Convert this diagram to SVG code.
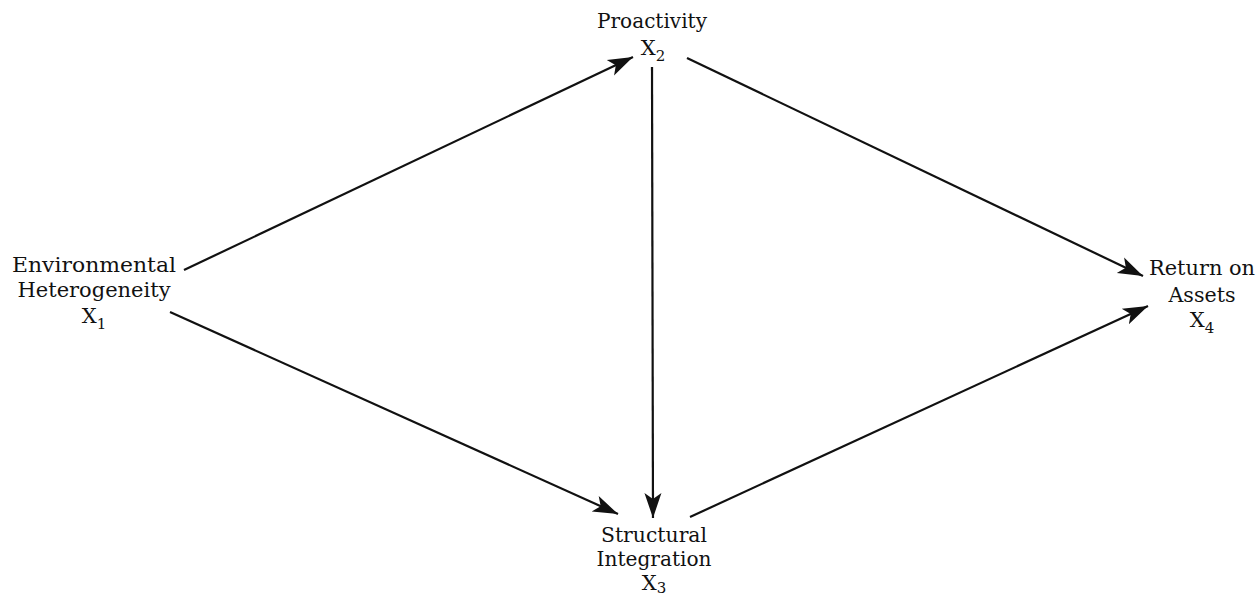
<svg xmlns="http://www.w3.org/2000/svg" width="1260" height="597" viewBox="0 0 1260 597">
<style>
text{font-family:"DejaVu Serif","Liberation Serif",serif;font-size:20px;fill:#111;text-anchor:middle}
.x{font-size:21px}
.sub{font-size:15px}
.c line{stroke:#111;stroke-width:2.2;marker-end:url(#ah)}
</style>
<defs>
<marker id="ah" markerUnits="userSpaceOnUse" markerWidth="28" markerHeight="20" viewBox="0 0 28 20" refX="25" refY="10" orient="auto">
<path d="M0,1.5 L25,10 L0,18.5 L6,10 Z" fill="#111"/>
</marker>
</defs>
<rect width="1260" height="597" fill="#fff"/>
<g class="c" id="connectors">
<line x1="184" y1="270" x2="633" y2="57"/>
<line x1="652" y1="67" x2="653" y2="518"/>
<line x1="170" y1="312" x2="618" y2="514"/>
<line x1="687" y1="58" x2="1143" y2="276"/>
<line x1="690" y1="517" x2="1148" y2="306"/>
</g>
<g id="n1">
<text x="94" y="272" textLength="164" lengthAdjust="spacingAndGlyphs">Environmental</text>
<text x="94" y="297" textLength="153" lengthAdjust="spacingAndGlyphs">Heterogeneity</text>
<text class="x" x="94" y="323">X<tspan class="sub" dy="6">1</tspan></text>
</g>
<g id="n2">
<text x="652" y="28" textLength="110" lengthAdjust="spacingAndGlyphs">Proactivity</text>
<text class="x" x="653" y="55">X<tspan class="sub" dy="6">2</tspan></text>
</g>
<g id="n3">
<text x="654" y="542" textLength="106" lengthAdjust="spacingAndGlyphs">Structural</text>
<text x="654" y="566" textLength="115" lengthAdjust="spacingAndGlyphs">Integration</text>
<text class="x" x="654" y="590">X<tspan class="sub" dy="3">3</tspan></text>
</g>
<g id="n4">
<text x="1202" y="275" textLength="106" lengthAdjust="spacingAndGlyphs">Return on</text>
<text x="1202" y="302" textLength="67" lengthAdjust="spacingAndGlyphs">Assets</text>
<text class="x" x="1202" y="327">X<tspan class="sub" dy="6">4</tspan></text>
</g>
</svg>
